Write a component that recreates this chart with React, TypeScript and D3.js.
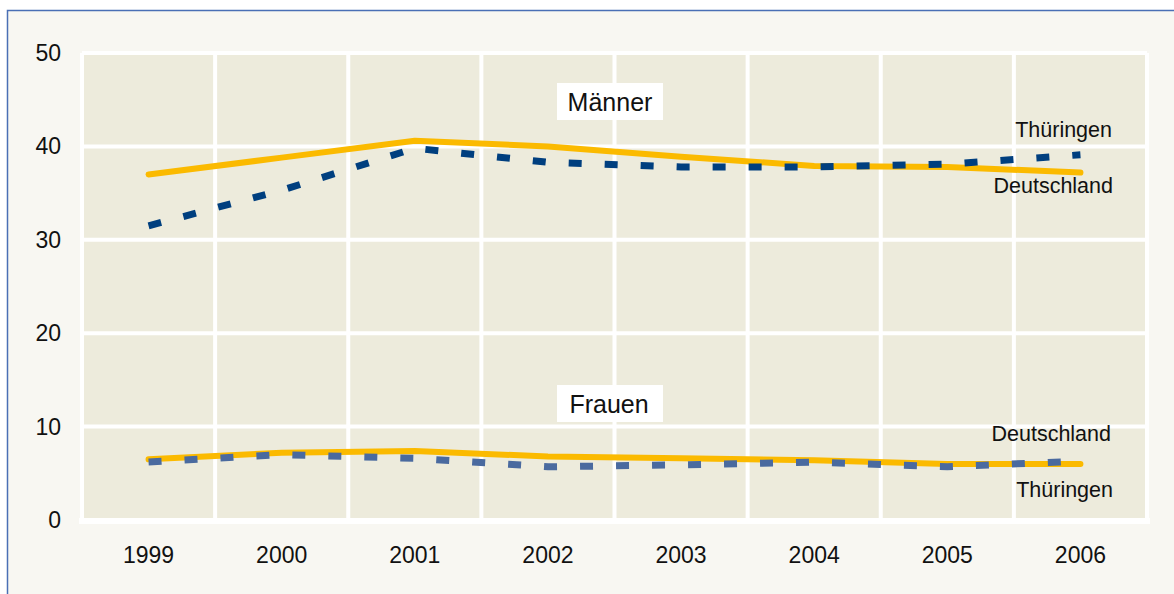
import React from "react";
import * as d3 from "d3";

const years = ["1999", "2000", "2001", "2002", "2003", "2004", "2005", "2006"];
const yTicks = [0, 10, 20, 30, 40, 50];
const maennerDeutschland = [37.0, 38.8, 40.6, 40.0, 38.9, 37.9, 37.8, 37.2];
const maennerThueringen = [31.5, 35.3, 39.8, 38.3, 37.8, 37.8, 38.1, 39.1];
const frauenDeutschland = [6.5, 7.2, 7.4, 6.8, 6.6, 6.4, 6.0, 6.0];
const frauenThueringen = [6.2, 7.0, 6.6, 5.7, 5.9, 6.2, 5.7, 6.3];

const W = 1174;
const H = 594;
const left = 82;
const right = 1147;
const top = 53;
const bottom = 520;

export default function App() {
  const x = d3.scaleBand<string>().domain(years).range([left, right]);
  const y = d3.scaleLinear().domain([0, 50]).range([bottom, top]);
  const cx = (i: number) => (x(years[i]) as number) + x.bandwidth() / 2;
  const line = d3
    .line<number>()
    .x((_, i) => cx(i))
    .y((d) => y(d));
  const font = "'Liberation Sans', Arial, sans-serif";
  const bounds = years.map((yr) => x(yr) as number).concat([right]);

  return (
    <svg
      width={W}
      height={H}
      style={{ position: "absolute", left: 0, top: 0, display: "block" }}
      fontFamily={font}
    >
      <rect x={0} y={0} width={W} height={H} fill="#ffffff" />
      <rect x={7.5} y={10.5} width={W + 10} height={H + 10} fill="#F8F7F2" stroke="#4A6FB5" strokeWidth={1.5} />
      <rect x={left} y={top} width={right - left} height={bottom - top} fill="#EDEBDC" />
      {yTicks.map((t) => (
        <line key={"h" + t} x1={left} x2={right} y1={y(t)} y2={y(t)} stroke="#ffffff" strokeWidth={4} />
      ))}
      {bounds.map((b, i) => (
        <line key={"v" + i} x1={b} x2={b} y1={top} y2={bottom + 3} stroke="#ffffff" strokeWidth={4} />
      ))}
      <line x1={left - 3} x2={right + 3} y1={bottom + 1} y2={bottom + 1} stroke="#ffffff" strokeWidth={6} />
      {yTicks.map((t) => (
        <text key={"yt" + t} x={61} y={y(t)} dy="0.35em" textAnchor="end" fontSize={23} fill="#111">
          {t}
        </text>
      ))}
      {years.map((yr, i) => (
        <text key={"xt" + yr} x={cx(i)} y={563} textAnchor="middle" fontSize={23} fill="#111">
          {yr}
        </text>
      ))}
      <path d={line(maennerDeutschland) || ""} fill="none" stroke="#FBBA00" strokeWidth={6} strokeLinecap="round" strokeLinejoin="round" />
      <path d={line(maennerThueringen) || ""} fill="none" stroke="#003F7F" strokeWidth={7} strokeDasharray="13 23" />
      <path d={line(frauenDeutschland) || ""} fill="none" stroke="#FBBA00" strokeWidth={6} strokeLinecap="round" strokeLinejoin="round" />
      <path d={line(frauenThueringen) || ""} fill="none" stroke="#4A6A9F" strokeWidth={7} strokeDasharray="13 23" />
      <rect x={557} y={83} width={106} height={37} fill="#ffffff" />
      <text x={610} y={102} dy="0.35em" textAnchor="middle" fontSize={25} fill="#111">Männer</text>
      <rect x={557} y={385} width={106} height={37} fill="#ffffff" />
      <text x={609} y={404} dy="0.35em" textAnchor="middle" fontSize={25} fill="#111">Frauen</text>
      <text x={1112} y={137} textAnchor="end" fontSize={21.5} fill="#111">Thüringen</text>
      <text x={1113} y={193} textAnchor="end" fontSize={21.5} fill="#111">Deutschland</text>
      <text x={1111} y={441} textAnchor="end" fontSize={21.5} fill="#111">Deutschland</text>
      <text x={1113} y={497} textAnchor="end" fontSize={21.5} fill="#111">Thüringen</text>
    </svg>
  );
}
